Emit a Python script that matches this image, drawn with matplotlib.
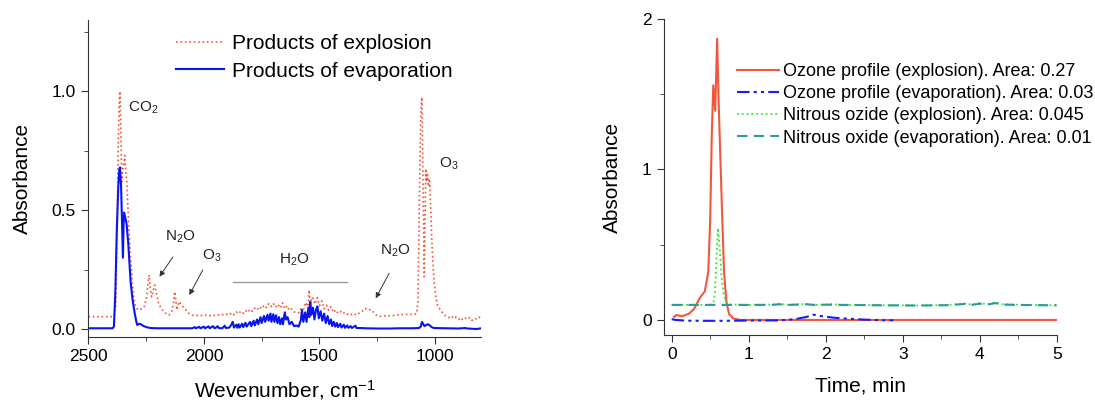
import matplotlib
matplotlib.use('Agg')
import matplotlib.pyplot as plt
from matplotlib.ticker import MultipleLocator, FixedLocator

plt.rcParams['font.family'] = ['Liberation Sans', 'DejaVu Sans']
plt.rcParams['mathtext.fontset'] = 'custom'
plt.rcParams['mathtext.rm'] = 'Liberation Sans'
plt.rcParams['mathtext.it'] = 'Liberation Sans:italic'

# --- left panel : IR spectra ---
wn_expl = [2500, 2390, 2381, 2375, 2370, 2366, 2363, 2359, 2355, 2350, 2346, 2342, 2338,
           2334, 2329, 2324, 2317, 2310, 2303, 2295, 2288, 2280, 2270, 2259, 2248, 2242,
           2237, 2232, 2226, 2220, 2213, 2205, 2196, 2187, 2170, 2151, 2140, 2131, 2126,
           2121, 2117, 2112, 2107, 2096, 2086, 2070, 2057,
           2050, 2040, 2030, 2020, 2010, 2000, 1990, 1980, 1970, 1960, 1950, 1940, 1930,
           1920, 1910, 1900, 1890, 1880, 1870, 1860, 1850, 1840, 1830, 1820, 1810, 1800,
           1790, 1780, 1770, 1760, 1750, 1740, 1730, 1720, 1710, 1700, 1690, 1680, 1670,
           1660, 1650, 1640, 1630, 1620, 1610, 1600, 1590, 1580, 1570, 1560, 1550, 1545,
           1540, 1530, 1520, 1510, 1500, 1490, 1480, 1470, 1460, 1450, 1440, 1430, 1420,
           1410, 1400, 1390, 1380, 1370, 1360, 1350, 1340, 1330, 1320, 1310, 1300, 1290,
           1280, 1270, 1260, 1250, 1240, 1230, 1220, 1210, 1200, 1190, 1180, 1170, 1160,
           1150, 1140, 1130, 1120, 1110, 1100, 1090, 1080, 1074, 1068, 1062, 1057, 1052,
           1047, 1043, 1040, 1036, 1033, 1029, 1024, 1019, 1013, 1006, 999, 990, 977, 965,
           955, 949, 940, 930, 920, 910, 898, 890, 880, 870, 860, 850, 840, 830, 820, 810, 800]
ab_expl = [0.052, 0.052, 0.10, 0.45, 0.80, 0.95, 1.00, 0.85, 0.62, 0.68, 0.70, 0.73, 0.66,
           0.63, 0.52, 0.41, 0.30, 0.20, 0.13, 0.094, 0.085, 0.080, 0.085, 0.090, 0.13, 0.19,
           0.227, 0.17, 0.135, 0.16, 0.185, 0.15, 0.11, 0.090, 0.068, 0.059, 0.07, 0.11, 0.157,
           0.12, 0.08, 0.10, 0.115, 0.10, 0.090, 0.070, 0.060,
           0.058, 0.056, 0.057, 0.055, 0.057, 0.056, 0.058, 0.055, 0.057, 0.059, 0.056, 0.060, 0.057,
           0.061, 0.058, 0.062, 0.059, 0.068, 0.060, 0.072, 0.064, 0.075, 0.066, 0.078, 0.070, 0.083,
           0.074, 0.088, 0.080, 0.094, 0.085, 0.100, 0.090, 0.106, 0.094, 0.108, 0.092, 0.104, 0.088,
           0.110, 0.085, 0.098, 0.078, 0.084, 0.072, 0.070, 0.068, 0.085, 0.078, 0.112, 0.095, 0.164,
           0.110, 0.135, 0.105, 0.132, 0.098, 0.118, 0.085, 0.100, 0.078, 0.094, 0.070, 0.080, 0.066,
           0.074, 0.064, 0.070, 0.062, 0.066, 0.060, 0.064, 0.058, 0.066, 0.070, 0.080, 0.086, 0.078,
           0.082, 0.074, 0.064, 0.056, 0.054, 0.053, 0.055, 0.054, 0.056, 0.055, 0.057, 0.058, 0.060,
           0.059, 0.061, 0.060, 0.062, 0.061, 0.062, 0.063, 0.064, 0.12, 0.55, 0.90, 0.975, 0.60,
           0.22, 0.50, 0.674, 0.62, 0.65, 0.60, 0.632, 0.50, 0.345, 0.22, 0.15, 0.10, 0.080, 0.065,
           0.055, 0.052, 0.048, 0.055, 0.044, 0.050, 0.040, 0.048, 0.038, 0.046, 0.040, 0.048, 0.036,
           0.044, 0.042, 0.050, 0.045]

wn_evap = [2500, 2395, 2389, 2383, 2377, 2370, 2366, 2363, 2358, 2354, 2350, 2347, 2345, 2340,
           2334, 2327, 2317, 2308, 2299, 2292, 2288, 2280, 2273, 2260, 2245, 2230, 2200, 2050,
           2040, 2035, 2020, 2015, 2000, 1995, 1980, 1975, 1960, 1955, 1950, 1940, 1935, 1920,
           1910, 1905, 1890, 1880, 1875, 1870, 1860, 1855, 1850, 1845, 1835, 1830, 1820, 1815,
           1800, 1795, 1785, 1780, 1770, 1765, 1755, 1750, 1740, 1735, 1725, 1720, 1712, 1708,
           1700, 1695, 1688, 1682, 1675, 1670, 1662, 1658, 1650, 1645, 1638, 1630, 1620, 1610,
           1600, 1590, 1580, 1576, 1570, 1562, 1556, 1548, 1544, 1540, 1535, 1528, 1522, 1515,
           1509, 1503, 1495, 1488, 1480, 1473, 1465, 1458, 1450, 1445, 1438, 1432, 1425, 1420,
           1410, 1405, 1395, 1390, 1380, 1375, 1365, 1360, 1345, 1340, 1320, 1300, 1250, 1200,
           1150, 1100, 1070, 1062, 1057, 1052, 1046, 1040, 1032, 1024, 1015, 1005, 950, 900,
           870, 860, 840, 820, 800]
ab_evap = [0.003, 0.003, 0.010, 0.15, 0.40, 0.60, 0.67, 0.68, 0.60, 0.45, 0.30, 0.45, 0.49, 0.47,
           0.44, 0.36, 0.20, 0.12, 0.066, 0.030, 0.017, 0.022, 0.020, 0.012, 0.007, 0.004, 0.003, 0.003,
           0.008, 0.003, 0.009, 0.003, 0.010, 0.003, 0.011, 0.003, 0.012, 0.004, 0.004, 0.012, 0.004, 0.003,
           0.014, 0.004, 0.006, 0.020, 0.030, 0.006, 0.018, 0.005, 0.020, 0.006, 0.022, 0.008, 0.026, 0.010,
           0.030, 0.012, 0.035, 0.015, 0.040, 0.020, 0.050, 0.025, 0.055, 0.030, 0.060, 0.035, 0.065, 0.030,
           0.062, 0.030, 0.058, 0.025, 0.050, 0.020, 0.045, 0.020, 0.070, 0.040, 0.050, 0.020, 0.030, 0.012,
           0.015, 0.010, 0.040, 0.080, 0.030, 0.070, 0.030, 0.090, 0.050, 0.115, 0.060, 0.090, 0.040, 0.080,
           0.095, 0.045, 0.075, 0.035, 0.065, 0.025, 0.055, 0.020, 0.040, 0.012, 0.030, 0.010, 0.025, 0.008,
           0.022, 0.006, 0.018, 0.005, 0.015, 0.005, 0.012, 0.004, 0.014, 0.004, 0.004, 0.003, 0.002, 0.002,
           0.003, 0.003, 0.004, 0.010, 0.030, 0.022, 0.012, 0.016, 0.020, 0.016, 0.008, 0.004, 0.003, 0.002,
           0.004, 0.002, 0.001, 0.000, 0.003]

# --- right panel : time profiles ---
t_oz_expl = [0.03, 0.065, 0.13, 0.22, 0.29, 0.37, 0.43, 0.475, 0.50, 0.52, 0.54, 0.565, 0.59,
             0.61, 0.65, 0.68, 0.71, 0.745, 0.80, 0.89, 1.5, 2.5, 3.5, 4.5, 5.0]
a_oz_expl = [0.02, 0.033, 0.025, 0.04, 0.073, 0.15, 0.19, 0.32, 0.67, 1.22, 1.56, 1.39, 1.87,
             1.44, 0.78, 0.32, 0.12, 0.04, 0.01, 0.0, 0.0, 0.0, 0.0, 0.0, 0.0]

t_oz_evap = [0.0, 0.05, 0.2, 0.6, 1.0, 1.4, 1.6, 1.75, 1.84, 1.95, 2.1, 2.3, 2.5, 2.7, 2.88]
a_oz_evap = [0.005, 0.0, -0.005, -0.006, -0.004, -0.003, 0.005, 0.02, 0.035, 0.025, 0.015,
             0.008, 0.002, -0.002, -0.003]

t_n2o_expl = [0.0, 0.2, 0.4, 0.5, 0.54, 0.56, 0.58, 0.60, 0.62, 0.65, 0.68, 0.71, 0.77, 1.0,
              1.3, 1.4, 1.5, 1.75, 1.85, 2.1, 2.2, 2.8, 3.2, 3.6, 3.8, 3.9, 4.0, 4.1, 4.2,
              4.3, 4.6, 5.0]
a_n2o_expl = [0.10, 0.10, 0.10, 0.10, 0.11, 0.17, 0.40, 0.61, 0.50, 0.27, 0.16, 0.12, 0.102,
              0.10, 0.102, 0.108, 0.10, 0.106, 0.10, 0.104, 0.10, 0.098, 0.096, 0.10, 0.11,
              0.102, 0.112, 0.104, 0.115, 0.104, 0.10, 0.098]

t_n2o_evap = [0.0, 0.5, 1.0, 1.3, 1.4, 1.5, 1.75, 1.85, 2.1, 2.2, 2.8, 3.2, 3.6, 3.8, 3.9,
              4.0, 4.1, 4.2, 4.3, 4.6, 5.0]
a_n2o_evap = [0.10, 0.10, 0.10, 0.10, 0.104, 0.10, 0.104, 0.10, 0.102, 0.10, 0.097, 0.096,
              0.098, 0.106, 0.10, 0.108, 0.102, 0.112, 0.102, 0.099, 0.097]

RED = '#f0583c'

fig = plt.figure(figsize=(10.95, 4.01), dpi=100)
ax_1 = fig.add_axes([0.0806, 0.160, 0.359, 0.790])
ax_2 = fig.add_axes([0.6064, 0.1646, 0.3586, 0.788])

for ax in (ax_1, ax_2):
    ax.spines['top'].set_visible(False)
    ax.spines['right'].set_visible(False)
    ax.spines['left'].set_color('#333333')
    ax.spines['bottom'].set_color('#333333')
    ax.tick_params(which='both', direction='out', color='#333333', labelsize=12.5, pad=4)
    ax.tick_params(which='major', length=5)
    ax.tick_params(which='minor', length=3)

# left panel
ax_1.plot(wn_expl, ab_expl, color=RED, linestyle=':', linewidth=1.2,
          label='Products of explosion')
ax_1.plot(wn_evap, ab_evap, color='#0a14f0', linewidth=1.5,
          label='Products of evaporation')
ax_1.set_xlim(2500, 800)
ax_1.set_ylim(-0.033, 1.3)
ax_1.xaxis.set_major_locator(FixedLocator([2500, 2000, 1500, 1000]))
ax_1.xaxis.set_minor_locator(FixedLocator([2250, 1750, 1250]))
ax_1.yaxis.set_major_locator(FixedLocator([0.0, 0.5, 1.0]))
ax_1.yaxis.set_minor_locator(FixedLocator([0.25, 0.75, 1.25]))
ax_1.set_yticklabels(['0.0', '0.5', '1.0'])
ax_1.set_xlabel('Wevenumber, cm$^{-1}$', fontsize=15, labelpad=10)
ax_1.set_ylabel('Absorbance', fontsize=15, labelpad=14)
ax_1.legend(loc='upper left', bbox_to_anchor=(0.224, 0.956), frameon=False, fontsize=15,
            handlelength=2.3, handletextpad=0.35, labelspacing=0.42, borderpad=0,
            borderaxespad=0)

ann = dict(fontsize=11, color='#222222', va='center', ha='left')
ax_1.text(2330, 0.93, 'CO$_2$', **ann)
ax_1.text(2169, 0.39, 'N$_2$O', **ann)
ax_1.text(2009, 0.306, 'O$_3$', **ann)
ax_1.text(1676, 0.29, 'H$_2$O', **ann)
ax_1.text(1237, 0.33, 'N$_2$O', **ann)
ax_1.text(982, 0.695, 'O$_3$', **ann)
ax_1.plot([1875, 1383], [0.199, 0.199], color='#9a9a9a', linewidth=1)
arrow = dict(arrowstyle='-|>', color='#333333', lw=0.7, mutation_scale=8,
             shrinkA=0, shrinkB=0)
ax_1.annotate('', xy=(2192, 0.22), xytext=(2134, 0.303), arrowprops=arrow)
ax_1.annotate('', xy=(2063, 0.143), xytext=(2005, 0.248), arrowprops=arrow)
ax_1.annotate('', xy=(1257, 0.129), xytext=(1199, 0.234), arrowprops=arrow)

# right panel
ax_2.plot(t_oz_expl, a_oz_expl, color=RED, linewidth=1.5,
          label='Ozone profile (explosion). Area: 0.27')
ax_2.plot(t_oz_evap, a_oz_evap, color='#1a1aff', linewidth=1.5,
          dashes=(6, 2, 1.5, 2, 1.5, 2), label='Ozone profile (evaporation). Area: 0.03')
ax_2.plot(t_n2o_expl, a_n2o_expl, color='#2ee82e', linewidth=1.3, linestyle=':',
          label='Nitrous ozide (explosion). Area: 0.045')
ax_2.plot(t_n2o_evap, a_n2o_evap, color='#2a9a9a', linewidth=1.5, dashes=(5, 3),
          label='Nitrous oxide (evaporation). Area: 0.01')
ax_2.set_xlim(-0.1, 5)
ax_2.set_ylim(-0.1, 2.0)
ax_2.xaxis.set_major_locator(MultipleLocator(1))
ax_2.xaxis.set_minor_locator(MultipleLocator(0.5))
ax_2.yaxis.set_major_locator(MultipleLocator(1))
ax_2.yaxis.set_minor_locator(MultipleLocator(0.5))
ax_2.set_xlabel('Time, min', fontsize=15, labelpad=10)
ax_2.set_ylabel('Absorbance', fontsize=15, labelpad=14)
ax_2.legend(loc='upper left', bbox_to_anchor=(0.186, 0.861), frameon=False, fontsize=13,
            handlelength=2.3, handletextpad=0.25, labelspacing=0.29, borderpad=0,
            borderaxespad=0)

fig.savefig('out.png', dpi=100)
